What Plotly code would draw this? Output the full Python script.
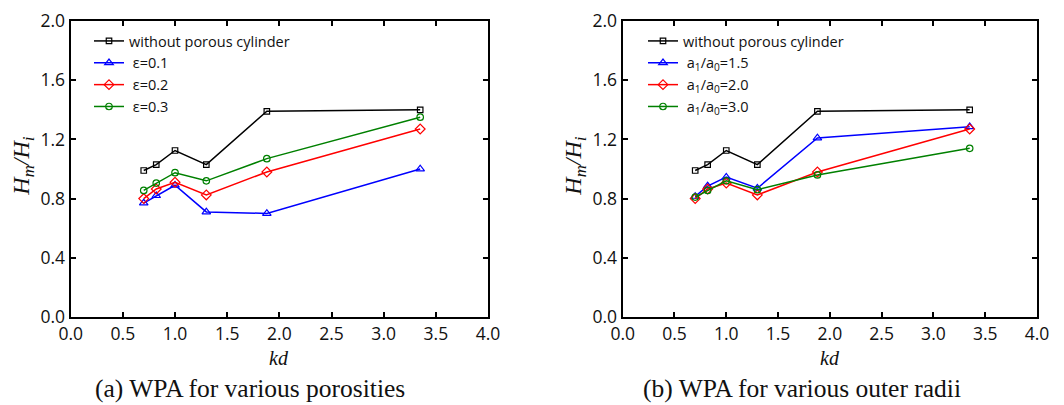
import plotly.graph_objects as go

kd = [0.70, 0.82, 1.00, 1.30, 1.88, 3.35]

# Panel (a)
no_cyl = [0.99, 1.03, 1.125, 1.03, 1.39, 1.40]
eps_01 = [0.77, 0.82, 0.89, 0.71, 0.70, 1.00]
eps_02 = [0.80, 0.865, 0.91, 0.825, 0.98, 1.27]
eps_03 = [0.855, 0.905, 0.975, 0.92, 1.07, 1.35]

# Panel (b)
r_15 = [0.815, 0.885, 0.945, 0.87, 1.21, 1.285]
r_20 = [0.80, 0.865, 0.905, 0.825, 0.98, 1.27]
r_30 = [0.81, 0.855, 0.92, 0.86, 0.96, 1.14]

names_a = ["without porous cylinder", " \u03b5=0.1", " \u03b5=0.2", " \u03b5=0.3"]
names_b = ["without porous cylinder", " a<sub>1</sub>/a<sub>0</sub>=1.5",
           " a<sub>1</sub>/a<sub>0</sub>=2.0", " a<sub>1</sub>/a<sub>0</sub>=3.0"]
captions = ["(a) WPA for various porosities", "(b) WPA for various outer radii"]

colors = ["#000000", "#0000ff", "#ff0000", "#008000"]
symbols = ["square-open", "triangle-up-open", "diamond-open", "circle-open"]
msizes = [5.5, 7.5, 7.5, 6.5]

fig = go.Figure()
series_a = [no_cyl, eps_01, eps_02, eps_03]
series_b = [no_cyl, r_15, r_20, r_30]
for i, ys in enumerate(series_a):
    fig.add_trace(go.Scatter(x=kd, y=ys, name=names_a[i], mode="lines+markers",
                             line=dict(color=colors[i], width=1.5),
                             marker=dict(symbol=symbols[i], size=msizes[i], color=colors[i],
                                         line=dict(width=1.2, color=colors[i])),
                             xaxis="x", yaxis="y", legend="legend"))
for i, ys in enumerate(series_b):
    fig.add_trace(go.Scatter(x=kd, y=ys, name=names_b[i], mode="lines+markers",
                             line=dict(color=colors[i], width=1.5),
                             marker=dict(symbol=symbols[i], size=msizes[i], color=colors[i],
                                         line=dict(width=1.2, color=colors[i])),
                             xaxis="x2", yaxis="y2", legend="legend2"))

W, H = 1064, 405
ytop, ybot = 21, 317
xa = (70.7, 488)
xb = (622.7, 1037)

def px(x):
    return x / W

def py(y):
    return 1 - y / H

tickfont = dict(family="Open Sans", size=17.5, color="#111")
common_x = dict(range=[0, 4], dtick=0.5, tick0=0, tickformat=".1f", showline=True,
                linecolor="black", linewidth=2.2, mirror="ticks", ticks="inside",
                ticklen=5, tickwidth=1.8, tickcolor="black", showgrid=False,
                zeroline=False, tickfont=tickfont, automargin=False)
common_y = dict(range=[0, 2], dtick=0.4, tick0=0, tickformat=".1f", showline=True,
                linecolor="black", linewidth=2.2, mirror="ticks", ticks="inside",
                ticklen=5, tickwidth=1.8, tickcolor="black", showgrid=False,
                zeroline=False, tickfont=tickfont, automargin=False)

legfont = dict(family="Open Sans", size=14.5, color="#111")
fig.update_layout(
    width=W, height=H, margin=dict(l=0, r=0, t=0, b=0, autoexpand=False),
    paper_bgcolor="white", plot_bgcolor="white",
    xaxis=dict(domain=[px(xa[0]), px(xa[1])], anchor="y", **common_x),
    yaxis=dict(domain=[py(ybot), py(ytop)], anchor="x", **common_y),
    xaxis2=dict(domain=[px(xb[0]), px(xb[1])], anchor="y2", **common_x),
    yaxis2=dict(domain=[py(ybot), py(ytop)], anchor="x2", **common_y),
    legend=dict(x=px(89), y=py(25), xanchor="left", yanchor="top",
                bgcolor="rgba(0,0,0,0)", font=legfont, tracegroupgap=0),
    legend2=dict(x=px(643), y=py(25), xanchor="left", yanchor="top",
                 bgcolor="rgba(0,0,0,0)", font=legfont, tracegroupgap=0),
    showlegend=True,
)

ann = []
for (x0, x1), cap_c, cap in [(xa, 250, captions[0]), (xb, 802, captions[1])]:
    cx = (x0 + x1) / 2
    ann.append(dict(text="<i>kd</i>", x=px(cx), y=py(358), xref="paper", yref="paper",
                    showarrow=False, xanchor="center", yanchor="middle",
                    font=dict(family="Liberation Serif", size=20, color="#111")))
    ann.append(dict(text="<i>H<sub>m</sub>/H<sub>i</sub></i>", x=px(x0 - 48), y=py(166),
                    xref="paper", yref="paper", showarrow=False, textangle=-90,
                    xanchor="center", yanchor="middle",
                    font=dict(family="Liberation Serif", size=24, color="#111")))
    ann.append(dict(text=cap, x=px(cap_c), y=py(388),
                    xref="paper", yref="paper", showarrow=False, xanchor="center",
                    yanchor="middle", font=dict(family="Liberation Serif", size=25.5, color="#111")))
fig.update_layout(annotations=ann)

fig.write_html("out.html")
